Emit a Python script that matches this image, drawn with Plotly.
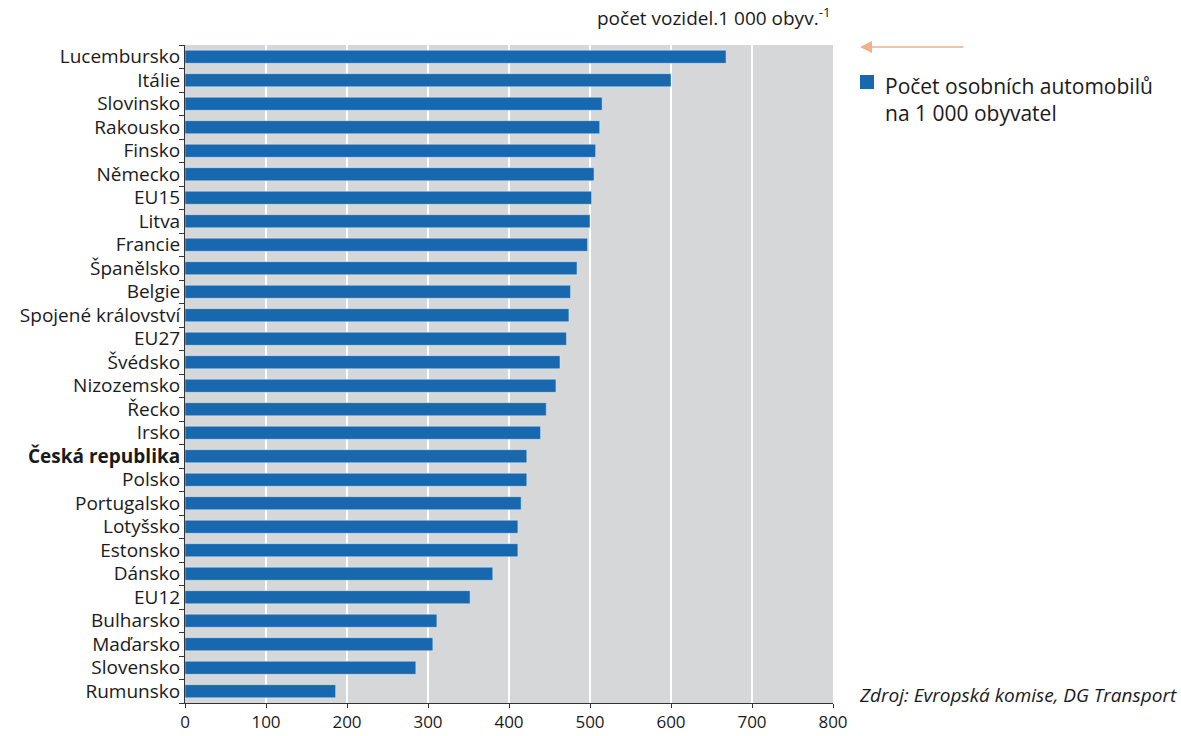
import plotly.graph_objects as go

countries = ["Lucembursko", "Itálie", "Slovinsko", "Rakousko", "Finsko", "Německo", "EU15",
             "Litva", "Francie", "Španělsko", "Belgie", "Spojené království", "EU27", "Švédsko",
             "Nizozemsko", "Řecko", "Irsko", "<b>Česká republika</b>", "Polsko", "Portugalsko",
             "Lotyšsko", "Estonsko", "Dánsko", "EU12", "Bulharsko", "Maďarsko", "Slovensko", "Rumunsko"]
values = [668, 600, 515, 512, 507, 505, 502, 500, 497, 484, 476, 474, 471, 463, 458, 446, 439,
          422, 422, 415, 411, 411, 380, 352, 311, 306, 285, 186]
x_ticks = [0, 100, 200, 300, 400, 500, 600, 700, 800]
legend_label = "Počet osobních automobilů<br>na 1 000 obyvatel"

FONT = "Open Sans"
BLUE = "#1868B0"
TXT = "#1a1a1a"

TOP, BOT = 45, 703
PH = BOT - TOP

fig = go.Figure()
fig.add_trace(go.Bar(
    y=countries, x=values, orientation="h", marker_color=BLUE, width=0.56,
    name=legend_label, showlegend=False,
))

fig.update_layout(
    width=1181, height=736,
    margin=dict(l=185, r=348, t=TOP, b=736 - BOT),
    paper_bgcolor="white", plot_bgcolor="#D6D7D9",
    font=dict(family=FONT, size=19, color=TXT),
    xaxis=dict(range=[0, 800], tickvals=x_ticks, showgrid=True, gridcolor="white", gridwidth=2,
               ticks="outside", ticklen=4, tickcolor="#333", showline=True, linecolor="#333",
               zeroline=False, tickfont=dict(size=17), fixedrange=True, automargin=False),
    yaxis=dict(categoryorder="array", categoryarray=countries[::-1], autorange=True,
               ticks="outside", tickson="boundaries", ticklen=5, tickcolor="#333",
               showline=True, linecolor="#333", showgrid=False, tickfont=dict(size=19),
               fixedrange=True, automargin=False),
    shapes=[
        dict(type="rect", xref="paper", yref="paper",
             x0=(860 - 185) / 648, x1=(874 - 185) / 648,
             y0=(BOT - 89) / PH, y1=(BOT - 75) / PH,
             fillcolor=BLUE, line=dict(width=0)),
    ],
    annotations=[
        dict(text=legend_label, xref="paper", yref="paper",
             x=(883 - 185) / 648, y=(BOT - 100) / PH, xanchor="left", yanchor="middle",
             align="left", showarrow=False, font=dict(size=21, color=TXT)),
        dict(text="počet vozidel.1 000 obyv.<sup>-1</sup>", xref="paper", yref="paper",
             x=1.0, y=1.0, yshift=12, xanchor="right", yanchor="bottom", showarrow=False,
             font=dict(size=19)),
        dict(x=(860 - 185) / 648, y=(BOT - 47) / PH, xref="paper", yref="paper", ax=105, ay=0,
             axref="pixel", ayref="pixel", showarrow=True, arrowhead=2, arrowsize=1.6,
             arrowwidth=1.5, arrowcolor="#F0B088", text=""),
        dict(text="<i>Zdroj: Evropská komise, DG Transport</i>", xref="paper", yref="paper",
             x=(1179 - 185) / 648, y=(BOT - 710) / PH, xanchor="right", yanchor="bottom",
             showarrow=False, font=dict(size=19)),
    ],
)

fig.write_html("out.html")
